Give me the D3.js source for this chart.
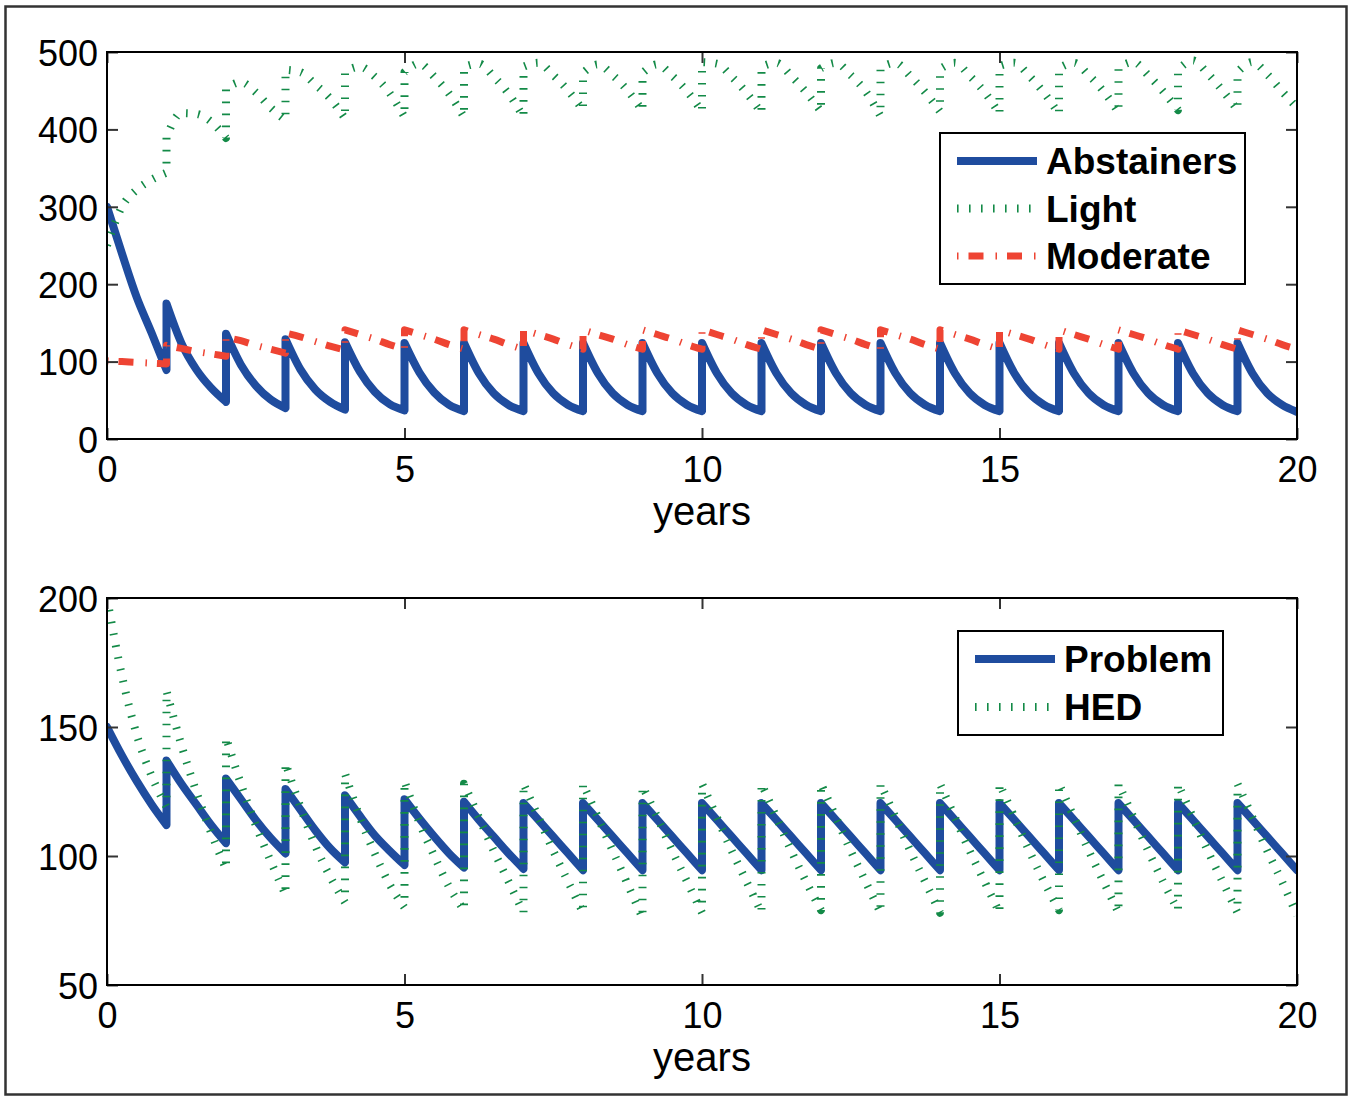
<!DOCTYPE html>
<html>
<head>
<meta charset="utf-8">
<script src="https://cdn.jsdelivr.net/npm/d3@7"></script>
<style>
  body { margin: 0; background: #fff; }
  svg text { font-family: "Liberation Sans", Arial, Helvetica, sans-serif; fill: #000; }
</style>
</head>
<body>
<script>
'use strict';

// sample offsets inside each year (between two yearly pulses)
const offsets = [0, 0.25, 0.5, 0.75, 1];

// top panel, one row per year: values at the offsets above
const abstainers = [
  [300, 240, 183, 137, 89],
  [175, 124, 90, 66, 48],
  [136, 96, 69, 51, 40],
  [129, 90, 64, 48, 38],
  [125, 87, 61, 45, 37],
  [124, 86, 60, 44, 36],
  [124, 85, 59, 44, 36],
  [124, 85, 59, 44, 36],
  [124, 85, 59, 44, 36],
  [124, 85, 59, 44, 36],
  [124, 85, 59, 44, 36],
  [124, 85, 59, 44, 36],
  [124, 85, 59, 44, 36],
  [124, 85, 59, 44, 36],
  [124, 85, 59, 44, 36],
  [124, 85, 59, 44, 36],
  [124, 85, 59, 44, 36],
  [124, 85, 59, 44, 36],
  [124, 85, 59, 44, 36],
  [124, 85, 59, 44, 35]
];

const light = [
  [250, 300, 322, 335, 344],
  [390, 421, 420, 410, 389],
  [453, 461, 448, 428, 412],
  [477, 474, 458, 440, 414],
  [475, 481, 468, 447, 416],
  [474, 485, 468, 446, 416],
  [481, 485, 468, 446, 416],
  [481, 486, 470, 450, 425],
  [473, 484, 470, 450, 424],
  [473, 484, 469, 449, 423],
  [487, 485, 468, 447, 421],
  [481, 486, 469, 448, 423],
  [479, 486, 470, 449, 417],
  [480, 486, 469, 448, 423],
  [478, 486, 469, 448, 420],
  [482, 486, 469, 447, 420],
  [479, 486, 470, 449, 422],
  [480, 487, 470, 449, 425],
  [477, 489, 472, 450, 425],
  [474, 487, 471, 449, 428]
];

const moderate = [
  [101, 100, 99, 98, 97],
  [121, 117, 113, 110, 107],
  [131, 127, 121, 116, 111],
  [137, 132, 126, 120, 115],
  [141, 135, 129, 122, 116],
  [141, 135, 129, 122, 116],
  [141, 135, 129, 122, 116],
  [141, 135, 129, 122, 116],
  [141, 135, 129, 122, 116],
  [141, 135, 129, 122, 116],
  [141, 135, 129, 122, 116],
  [141, 135, 129, 122, 116],
  [141, 135, 129, 122, 116],
  [141, 135, 129, 122, 116],
  [141, 135, 129, 122, 116],
  [141, 135, 129, 122, 116],
  [141, 135, 129, 122, 116],
  [141, 135, 129, 122, 116],
  [141, 135, 129, 122, 116],
  [141, 135, 129, 122, 116]
];

// bottom panel
const problem = [
  [150, 139, 129, 120, 112],
  [137, 128, 120, 112, 105],
  [130, 122, 114, 107, 101],
  [126, 118, 110, 103, 97.5],
  [123.5, 115.5, 108, 102, 96.5],
  [122, 114.5, 107.5, 101, 95.5],
  [121, 114, 107.5, 101, 95],
  [120.5, 114, 107.5, 101, 94.5],
  [120.5, 114, 107.5, 101, 94.5],
  [120.5, 114, 107.5, 101, 94.5],
  [120.5, 114, 107.5, 101, 94.5],
  [120.5, 114, 107.5, 101, 94.5],
  [120.5, 114, 107.5, 101, 94.5],
  [120.5, 114, 107.5, 101, 94.5],
  [120.5, 114, 107.5, 101, 94.5],
  [120.5, 114, 107.5, 101, 94.5],
  [120.5, 114, 107.5, 101, 94.5],
  [120.5, 114, 107.5, 101, 94.5],
  [120.5, 114, 107.5, 101, 94.5],
  [120.5, 114, 107.5, 101, 94.5]
];

const hed = [
  [200, 170, 147, 131, 119],
  [164, 143, 125, 109, 95],
  [146, 128, 112, 98, 85],
  [136, 119, 104, 92, 82],
  [132, 115, 101, 89, 80],
  [129, 113, 100, 88, 79],
  [128, 115, 102, 90, 78],
  [128, 115, 102, 90, 78],
  [128, 115, 102, 89, 76],
  [127, 115, 102, 90, 78],
  [128, 115, 102, 90, 78],
  [128, 115, 102, 90, 79],
  [128, 115, 102, 90, 78],
  [128, 115, 102, 90, 78],
  [128, 115, 102, 90, 78],
  [128, 115, 102, 90, 79],
  [128, 115, 102, 90, 78],
  [128, 115, 102, 90, 79],
  [128, 115, 102, 90, 78],
  [128, 115, 102, 90, 77]
];

const xTicks = [0, 5, 10, 15, 20];
const topYTicks = [0, 100, 200, 300, 400, 500];
const botYTicks = [50, 100, 150, 200];
const topLegend = ["Abstainers", "Light", "Moderate"];
const botLegend = ["Problem", "HED"];

const W = 1352, H = 1098;
const blue = "#1f4c9e", green = "#138a47", red = "#ee4433";

const styles = {
  solid: { color: blue, width: 8, dash: null, cap: "round" },
  dotted: { color: green, width: 8, dash: "1.6 10.4", cap: "butt" },
  dashdot: { color: red, width: 7, dash: "1.5 10 15 12", cap: "butt" }
};

const svg = d3.select("body").append("svg")
  .attr("width", W)
  .attr("height", H);

// figure frame
svg.append("rect")
  .attr("x", 5.5).attr("y", 6.5)
  .attr("width", 1341).attr("height", 1088)
  .attr("fill", "none")
  .attr("stroke", "#333")
  .attr("stroke-width", 2.5);

const x = d3.scaleLinear().domain([0, 20]).range([107, 1297]);

// join yearly pieces into one path so the dashes run on
function seriesPath(rows, y) {
  const line = d3.line()
    .x((d) => x(d[0]))
    .y((d) => y(d[1]))
    .curve(d3.curveMonotoneX);
  let out = "";
  rows.forEach((row, k) => {
    const pts = row.map((v, j) => [k + offsets[j], v]);
    let p = line(pts);
    if (k > 0) p = "L" + p.slice(1);
    out += p;
  });
  return out;
}

function drawPanel(cfg) {
  const y = d3.scaleLinear().domain(cfg.domain).range([cfg.bottom, cfg.top]);
  const g = svg.append("g");

  g.append("clipPath").attr("id", cfg.id)
    .append("rect")
    .attr("x", x(0)).attr("y", cfg.top)
    .attr("width", x(20) - x(0)).attr("height", cfg.bottom - cfg.top);

  // series
  const lines = g.append("g").attr("clip-path", "url(#" + cfg.id + ")");
  cfg.series.forEach((s) => {
    const st = styles[s.style];
    lines.append("path")
      .attr("d", seriesPath(s.data, y))
      .attr("fill", "none")
      .attr("stroke", st.color)
      .attr("stroke-width", st.width)
      .attr("stroke-linejoin", "round")
      .attr("stroke-linecap", st.cap)
      .attr("stroke-dasharray", st.dash);
  });

  // axes with inward ticks on all four sides
  const xb = g.append("g")
    .attr("transform", "translate(0," + cfg.bottom + ")")
    .call(d3.axisBottom(x).tickValues(xTicks).tickSize(-11).tickSizeOuter(0).tickPadding(17.5));
  const xt = g.append("g")
    .attr("transform", "translate(0," + cfg.top + ")")
    .call(d3.axisTop(x).tickValues(xTicks).tickSize(-11).tickSizeOuter(0).tickFormat(""));
  const yl = g.append("g")
    .attr("transform", "translate(" + x(0) + ",0)")
    .call(d3.axisLeft(y).tickValues(cfg.yTicks).tickSize(-11).tickSizeOuter(0).tickPadding(9));
  const yr = g.append("g")
    .attr("transform", "translate(" + x(20) + ",0)")
    .call(d3.axisRight(y).tickValues(cfg.yTicks).tickSize(-11).tickSizeOuter(0).tickFormat(""));

  [xb, xt, yl, yr].forEach((a) => {
    a.select(".domain").remove();
    a.selectAll(".tick line").attr("stroke", "#333").attr("stroke-width", 2);
    a.selectAll(".tick text")
      .style("font-family", '"Liberation Sans", Arial, Helvetica, sans-serif')
      .style("font-size", "36px")
      .attr("fill", "#000");
  });
  yl.selectAll(".tick text").attr("dy", "0.37em");

  // box
  g.append("rect")
    .attr("x", x(0)).attr("y", cfg.top)
    .attr("width", x(20) - x(0)).attr("height", cfg.bottom - cfg.top)
    .attr("fill", "none")
    .attr("stroke", "#000")
    .attr("stroke-width", 2);

  g.append("text")
    .attr("x", (x(0) + x(20)) / 2)
    .attr("y", cfg.bottom + 86)
    .attr("text-anchor", "middle")
    .style("font-size", "40px")
    .text("years");

  // legend
  const L = cfg.legend;
  const lg = g.append("g");
  lg.append("rect")
    .attr("x", L.x).attr("y", L.y)
    .attr("width", L.w).attr("height", L.h)
    .attr("fill", "#fff")
    .attr("stroke", "#000")
    .attr("stroke-width", 2);
  L.names.forEach((name, i) => {
    const st = styles[cfg.series[i].style];
    const cy = L.firstY + i * L.step;
    lg.append("line")
      .attr("x1", L.x + 17).attr("x2", L.x + 97)
      .attr("y1", cy).attr("y2", cy)
      .attr("stroke", st.color)
      .attr("stroke-width", s => st.width)
      .attr("stroke-dasharray", st.dash)
      .attr("stroke-linecap", "butt");
    lg.append("text")
      .attr("x", L.x + 106)
      .attr("y", cy + 13)
      .style("font-size", "37px")
      .style("font-weight", "bold")
      .text(name);
  });
}

drawPanel({
  id: "clipTop",
  domain: [0, 500],
  top: 52, bottom: 439,
  yTicks: topYTicks,
  series: [
    { data: abstainers, style: "solid" },
    { data: light, style: "dotted" },
    { data: moderate, style: "dashdot" }
  ],
  legend: { x: 940, y: 133, w: 305, h: 151, firstY: 161, step: 47.5, names: topLegend }
});

drawPanel({
  id: "clipBot",
  domain: [50, 200],
  top: 598, bottom: 985,
  yTicks: botYTicks,
  series: [
    { data: problem, style: "solid" },
    { data: hed, style: "dotted" }
  ],
  legend: { x: 958, y: 631, w: 265, h: 104, firstY: 659, step: 48, names: botLegend }
});
</script>
</body>
</html>
